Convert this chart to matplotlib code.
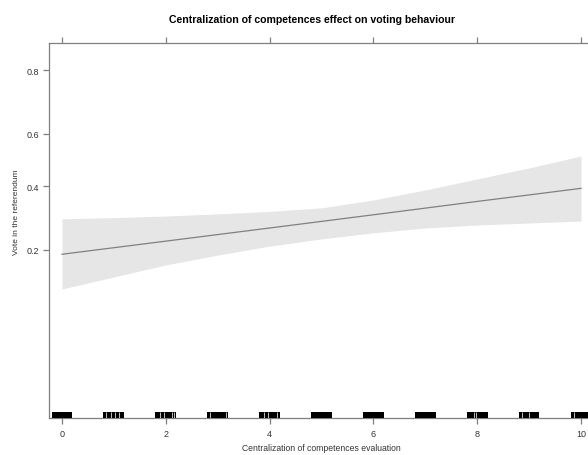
import numpy as np
import matplotlib
matplotlib.use("Agg")
import matplotlib.pyplot as plt
from matplotlib.transforms import blended_transform_factory
from matplotlib.ticker import FixedLocator, FixedFormatter, NullLocator

plt.rcParams['font.family'] = ['Liberation Sans', 'DejaVu Sans']

# ---- data ----
x_eval = [0, 1, 2, 3, 4, 5, 6, 7, 8, 9, 10]
fit = [0.189, 0.205, 0.222, 0.240, 0.259, 0.279, 0.300, 0.322, 0.345, 0.368, 0.392]
lower = [0.120, 0.141, 0.165, 0.187, 0.209, 0.228, 0.245, 0.259, 0.268, 0.274, 0.280]
upper = [0.287, 0.291, 0.296, 0.303, 0.311, 0.323, 0.350, 0.386, 0.427, 0.469, 0.515]

# rug: observed values (integers 0..10, jittered +-0.2) and thin gaps in the rug
rug_values = [0, 1, 2, 3, 4, 5, 6, 7, 8, 9, 10]
rug_jitter = 0.2
rug_gaps = [0.842, 0.944, 1.027, 1.104, 1.888, 1.965, 2.114, 2.158,
            2.852, 3.154, 3.892, 3.975, 4.137, 7.938, 7.977, 8.857, 9.004, 9.865]

x_ticks = [0, 2, 4, 6, 8, 10]
y_ticks = [0.2, 0.4, 0.6, 0.8]
y_tick_labels = ["0.2", "0.4", "0.6", "0.8"]

title = "Centralization of competences effect on voting behaviour"
xlabel = "Centralization of competences evaluation"
ylabel = "Vote in the referendum"

# ---- figure ----
W, H = 588, 456
fig = plt.figure(figsize=(W / 100, H / 100), dpi=100)
ax_left, ax_right = 49, 588
ax_top, ax_bottom = 43.5, 419.3
ax = fig.add_axes([ax_left / W, 1 - ax_bottom / H, (ax_right - ax_left) / W,
                   (ax_bottom - ax_top) / H])

axis_col = "#7f7f7f"
ax.fill_between(x_eval, lower, upper, color="#e6e6e6", linewidth=0, zorder=1)
ax.plot(x_eval, fit, color="#808080", linewidth=0.9, zorder=2)

ax.set_yscale("logit")
ax.set_ylim(0.01819, 0.8596)
ax.set_xlim(-0.25, 10.135)

# rug
trans = blended_transform_factory(ax.transData, ax.transAxes)
for v in rug_values:
    ax.fill_between([v - rug_jitter, v + rug_jitter], 0, 0.017, color="black",
                    linewidth=0, transform=trans, zorder=3)
for g in rug_gaps:
    ax.plot([g, g], [0, 0.017], color="#dddddd", linewidth=0.6, transform=trans,
            zorder=4, solid_capstyle="butt")

ax.yaxis.set_major_locator(FixedLocator(y_ticks))
ax.yaxis.set_major_formatter(FixedFormatter(y_tick_labels))
ax.yaxis.set_minor_locator(NullLocator())
ax.xaxis.set_major_locator(FixedLocator(x_ticks))
ax.xaxis.set_minor_locator(NullLocator())

for s in ["left", "top", "bottom"]:
    ax.spines[s].set_color(axis_col)
    ax.spines[s].set_linewidth(0.9)
ax.spines["right"].set_visible(False)

ax.tick_params(axis="both", which="major", direction="out", length=4,
               width=0.9, color=axis_col, labelsize=6.5, labelcolor="#333333")
ax.tick_params(axis="x", top=True, labeltop=False, pad=4)
ax.tick_params(axis="y", right=False, pad=3)

fig.text(312 / W, 1 - 20 / H, title, ha="center", va="center",
         fontsize=7.6, fontweight="bold", color="black")
fig.text(321 / W, 1 - 449 / H, xlabel, ha="center", va="center",
         fontsize=6.2, color="#333333")
fig.text(17 / W, 1 - 212 / H, ylabel, ha="center", va="center",
         rotation=90, fontsize=6.0, color="#333333")

fig.savefig("out.png", dpi=100)
